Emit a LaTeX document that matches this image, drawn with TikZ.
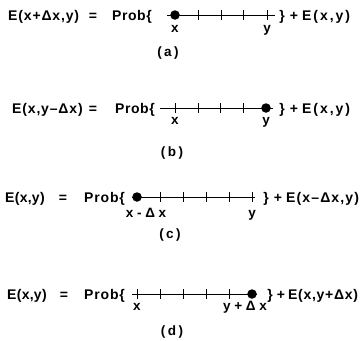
\documentclass[tikz,border=0pt]{standalone}
\usepackage{fontspec}
\setmainfont{Liberation Sans}[BoldFont={Liberation Sans Bold}]
\newcommand\lsp[2]{{\addfontfeatures{LetterSpace=#1}#2}}
\begin{document}
\begin{tikzpicture}[x=1pt,y=-1pt,
  txt/.style={inner sep=0pt,font=\fontsize{14}{15}\selectfont\bfseries,anchor=base west},
  optxt/.style={inner sep=0pt,font=\fontsize{14}{15}\selectfont\bfseries,anchor=base},
  labtxt/.style={inner sep=0pt,font=\fontsize{13.5}{14}\selectfont\bfseries,anchor=base},
  captxt/.style={inner sep=0pt,font=\fontsize{13.5}{14}\selectfont\bfseries},
  axisline/.style={line width=0.8pt},
  tickline/.style={line width=0.6pt},
  dotnode/.style={circle,fill=black,inner sep=0pt,minimum size=9.5pt}]
\useasboundingbox (0,0) rectangle (363,340);
% ---------- (a)
\node[txt] (a1) at (8,20) {\lsp{6}{E(x+Δx,y)}};
\node[optxt] (a2) at (93,20) {=};
\node[txt] (a3) at (112,20) {\lsp{4}{Prob\{}};
\coordinate (aL) at (167,15); \coordinate (aR) at (275,15);
\draw[axisline] (aL) -- (aR);
\foreach \t in {198,221,243,267} \draw[tickline] (\t,10) -- (\t,20);
\node[dotnode] (ad) at (175,15) {};
\node[labtxt] (ax) at (175,32) {x};
\node[labtxt] (ay) at (267,32) {y};
\node[optxt] (a4) at (282,20) {\}};
\node[optxt] (a5) at (294,20) {+};
\node[txt] (a6) at (302,20) {\lsp{14}{E(x,y)}};
\node[captxt] (ac) at (168,53) {\lsp{18}{(a)}};
% ---------- (b)
\node[txt] (b1) at (12,113) {\lsp{6}{E(x,y–Δx)}};
\node[optxt] (b2) at (93,113) {=};
\node[txt] (b3) at (115,113) {\lsp{4}{Prob\{}};
\coordinate (bL) at (160,108); \coordinate (bR) at (273,108);
\draw[axisline] (bL) -- (bR);
\foreach \t in {175,198,220,243} \draw[tickline] (\t,103) -- (\t,113);
\node[dotnode] (bd) at (266,108) {};
\node[labtxt] (bx) at (175,124) {x};
\node[labtxt] (by) at (266,124) {y};
\node[optxt] (b4) at (282,113) {\}};
\node[optxt] (b5) at (294,113) {+};
\node[txt] (b6) at (302,113) {\lsp{14}{E(x,y)}};
\node[captxt] (bc) at (172,153) {\lsp{18}{(b)}};
% ---------- (c)
\node[txt] (c1) at (5,202) {\lsp{2}{E(x,y)}};
\node[optxt] (c2) at (63,202) {=};
\node[txt] (c3) at (84,202) {\lsp{6}{Prob\{}};
\coordinate (cL) at (132,197); \coordinate (cR) at (255,197);
\draw[axisline] (cL) -- (cR);
\foreach \t in {160,183,206,229,252} \draw[tickline] (\t,192) -- (\t,202);
\node[dotnode] (cd) at (137,197) {};
\node[labtxt] (cx) at (146,217) {x - Δ x};
\node[labtxt] (cy) at (252,217) {y};
\node[optxt] (c4) at (266,202) {\}};
\node[optxt] (c5) at (278,202) {+};
\node[txt] (c6) at (286,202) {\lsp{8}{E(x–Δx,y)}};
\node[captxt] (cc) at (170,235) {\lsp{18}{(c)}};
% ---------- (d)
\node[txt] (d1) at (7,299) {\lsp{2}{E(x,y)}};
\node[optxt] (d2) at (64,299) {=};
\node[txt] (d3) at (84,299) {\lsp{6}{Prob\{}};
\coordinate (dL) at (132,294); \coordinate (dR) at (257,294);
\draw[axisline] (dL) -- (dR);
\foreach \t in {137,160,183,206,229} \draw[tickline] (\t,289) -- (\t,299);
\node[dotnode] (dd) at (252,294) {};
\node[labtxt] (dx) at (137,310) {x};
\node[labtxt] (dy) at (245,310) {y + Δ x};
\node[optxt] (d4) at (270,299) {\}};
\node[optxt] (d5) at (281,299) {+};
\node[txt] (d6) at (288,299) {\lsp{5}{E(x,y+Δx)}};
\node[captxt] (dc) at (172,332) {\lsp{18}{(d)}};
\end{tikzpicture}
\end{document}
